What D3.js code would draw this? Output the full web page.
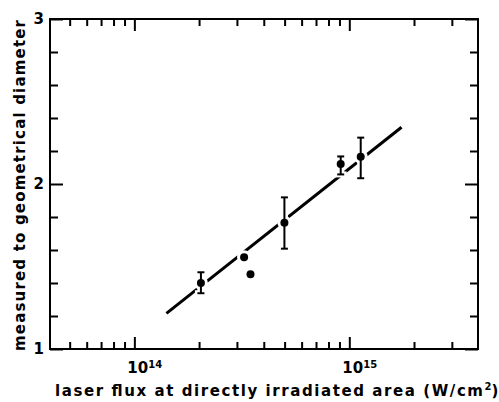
<!DOCTYPE html>
<html><head><meta charset="utf-8">
<script src="https://cdn.jsdelivr.net/npm/d3@7"></script>
<style>body{margin:0;background:#fff}</style>
</head><body>
<svg id="c" width="499" height="402"></svg>
<script>
// ---- data ----
const fluxValues = [2.04e14, 3.24e14, 3.47e14, 4.99e14, 9.12e14, 1.13e15];
const diameterRatio = [1.40, 1.556, 1.453, 1.765, 2.121, 2.165];
const errLow  = [1.338, null, null, 1.608, 2.058, 2.035];
const errHigh = [1.465, null, null, 1.919, 2.167, 2.281];
const fitFlux = [1.41e14, 1.75e15];
const fitRatio = [1.216, 2.344];
const xMajorTicks = [1e14, 1e15];
const xMajorLabels = [["10","14"],["10","15"]];
const xMinorTicks = [5e13,6e13,7e13,8e13,9e13,2e14,3e14,4e14,5e14,6e14,7e14,8e14,9e14,2e15,3e15];
const yMajorTicks = [1,2,3];
const yMinorTicks = [1.2,1.4,1.6,1.8,2.2,2.4,2.6,2.8];
const xTitle = "laser flux at directly irradiated area (W/cm";
const yTitle = "measured to geometrical diameter";

const L=50,R=478,T=19,B=349;
const svg=d3.select("#c");
const font="'DejaVu Sans', sans-serif";
const x=d3.scaleLog().domain([4.05e13,3.97e15]).range([L,R]);
const y=d3.scaleLinear().domain([1,3]).range([B,T]);

// frame
svg.append("rect").attr("x",L).attr("y",T).attr("width",R-L).attr("height",B-T)
  .attr("fill","none").attr("stroke","#000").attr("stroke-width",2);

function ax(gen, tr, vals, size){
  const g=svg.append("g").attr("transform",tr)
    .call(gen.tickValues(vals).tickSize(size).tickFormat(""));
  g.select(".domain").remove();
  g.selectAll("line").attr("stroke","#000").attr("stroke-width",2);
}
ax(d3.axisBottom(x),`translate(0,${B})`,xMajorTicks,-12);
ax(d3.axisBottom(x),`translate(0,${B})`,xMinorTicks,-7);
ax(d3.axisTop(x),`translate(0,${T})`,xMajorTicks,-12);
ax(d3.axisTop(x),`translate(0,${T})`,xMinorTicks,-7);
ax(d3.axisLeft(y),`translate(${L},0)`,yMajorTicks,-13);
ax(d3.axisLeft(y),`translate(${L},0)`,yMinorTicks,-8);
ax(d3.axisRight(y),`translate(${R},0)`,yMajorTicks,-13);
ax(d3.axisRight(y),`translate(${R},0)`,yMinorTicks,-8);

// tick labels
svg.selectAll(".yl").data(yMajorTicks).enter().append("text")
  .attr("x",44).attr("y",d=>y(d)+5).attr("text-anchor","end")
  .attr("font-family",font).attr("font-size",15).attr("font-weight","bold")
  .text(d=>d);
xMajorTicks.forEach((v,i)=>{
  const t=svg.append("text").attr("x",x(v)-7).attr("y",373)
    .attr("font-family",font).attr("font-size",15).attr("font-weight","bold");
  t.append("tspan").text(xMajorLabels[i][0]);
  t.append("tspan").attr("dy",-5).attr("font-size",10).text(xMajorLabels[i][1]);
});

// fit line
svg.append("line").attr("x1",x(fitFlux[0])).attr("y1",y(fitRatio[0]))
  .attr("x2",x(fitFlux[1])).attr("y2",y(fitRatio[1]))
  .attr("stroke","#000").attr("stroke-width",3);

const pts=fluxValues.map((f,i)=>({f,v:diameterRatio[i],lo:errLow[i],hi:errHigh[i]}));
// halos
pts.forEach(p=>{
  svg.append("circle").attr("cx",x(p.f)).attr("cy",y(p.v)).attr("r",7).attr("fill","#fff");
  if(p.lo!=null){
    svg.append("line").attr("x1",x(p.f)).attr("x2",x(p.f)).attr("y1",y(p.lo)).attr("y2",y(p.hi))
      .attr("stroke","#fff").attr("stroke-width",7);
    [p.lo,p.hi].forEach(e=>svg.append("line").attr("x1",x(p.f)-6).attr("x2",x(p.f)+6)
      .attr("y1",y(e)).attr("y2",y(e)).attr("stroke","#fff").attr("stroke-width",6));
  }
});
pts.forEach(p=>{
  if(p.lo!=null){
    svg.append("line").attr("x1",x(p.f)).attr("x2",x(p.f)).attr("y1",y(p.lo)).attr("y2",y(p.hi))
      .attr("stroke","#000").attr("stroke-width",2);
    [p.lo,p.hi].forEach(e=>svg.append("line").attr("x1",x(p.f)-3.5).attr("x2",x(p.f)+3.5)
      .attr("y1",y(e)).attr("y2",y(e)).attr("stroke","#000").attr("stroke-width",2));
  }
  svg.append("circle").attr("cx",x(p.f)).attr("cy",y(p.v)).attr("r",4).attr("fill","#000");
});

// titles
const xt=svg.append("text").attr("x",55).attr("y",396)
  .attr("font-family",font).attr("font-size",15).attr("font-weight","bold");
xt.append("tspan").attr("textLength",428).attr("lengthAdjust","spacing").text(xTitle);
xt.append("tspan").attr("dy",-6).attr("font-size",10).text("2");
xt.append("tspan").attr("dy",6).text(")");
svg.append("text").attr("transform","translate(25,185.5) rotate(-90)")
  .attr("text-anchor","middle").attr("font-family",font).attr("font-size",15).attr("font-weight","bold")
  .attr("textLength",331).attr("lengthAdjust","spacing").text(yTitle);
</script>
</body></html>
